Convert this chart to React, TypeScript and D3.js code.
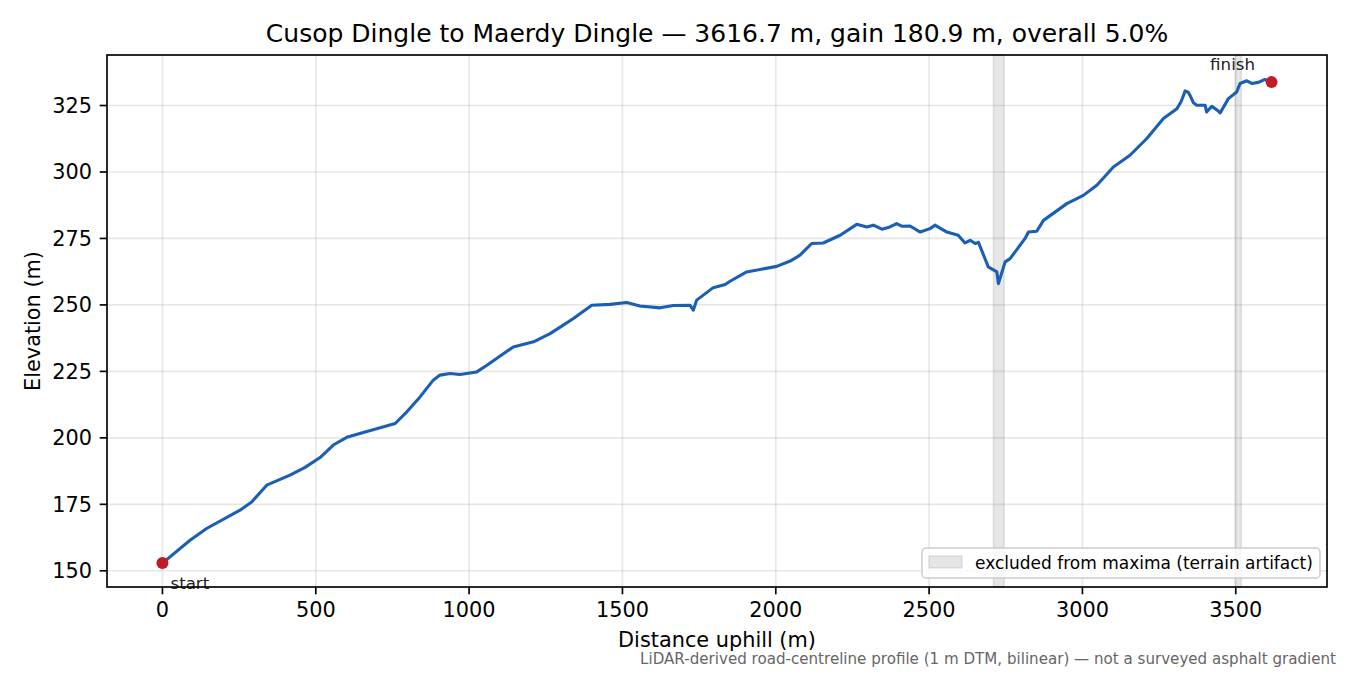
import React from "react";
import * as d3 from "d3";

const distance = [0, 90, 144, 253, 291, 340, 416, 465, 514, 557, 601, 655, 759, 797, 840, 883, 905, 938, 970, 1025, 1058, 1144, 1210, 1264, 1307, 1340, 1400, 1460, 1514, 1557, 1623, 1666, 1720, 1731, 1742, 1796, 1835, 1851, 1905, 2003, 2047, 2079, 2117, 2155, 2210, 2264, 2297, 2318, 2346, 2367, 2394, 2411, 2438, 2471, 2503, 2519, 2558, 2595, 2617, 2634, 2650, 2661, 2693, 2721, 2726, 2748, 2764, 2813, 2824, 2851, 2873, 2949, 3003, 3047, 3101, 3155, 3210, 3264, 3308, 3322, 3335, 3345, 3351, 3362, 3373, 3400, 3405, 3422, 3443, 3449, 3476, 3503, 3514, 3536, 3552, 3574, 3595, 3616.7];
const elevation = [152.9, 161.5, 165.9, 172.8, 175.9, 182.2, 186.0, 188.9, 192.6, 197.3, 200.2, 202.0, 205.4, 209.8, 215.4, 221.7, 223.6, 224.2, 223.8, 224.8, 227.3, 234.2, 236.1, 239.2, 242.4, 244.9, 249.9, 250.2, 250.9, 249.6, 248.9, 249.8, 249.9, 248.0, 251.8, 256.5, 257.7, 258.9, 262.4, 264.5, 266.5, 268.7, 273.1, 273.3, 276.2, 280.3, 279.3, 280.0, 278.5, 279.1, 280.6, 279.6, 279.7, 277.4, 278.7, 280.0, 277.4, 276.2, 273.3, 274.3, 273.1, 273.5, 264.3, 262.4, 258.0, 266.2, 267.4, 275.0, 277.4, 277.7, 281.8, 288.1, 291.2, 295.0, 301.9, 306.3, 312.6, 320.1, 323.8, 326.5, 330.5, 330.0, 328.8, 326.0, 325.1, 325.1, 322.6, 324.7, 322.9, 322.2, 327.6, 330.1, 333.3, 334.3, 333.3, 333.7, 334.8, 333.8];
const excludedBands = [[2710, 2745], [3498, 3518]];
const xTicks = [0, 500, 1000, 1500, 2000, 2500, 3000, 3500];
const yTicks = [150, 175, 200, 225, 250, 275, 300, 325];

const titleText = "Cusop Dingle to Maerdy Dingle — 3616.7 m, gain 180.9 m, overall 5.0%";
const xLabel = "Distance uphill (m)";
const yLabel = "Elevation (m)";
const legendLabel = "excluded from maxima (terrain artifact)";
const footer = "LiDAR-derived road-centreline profile (1 m DTM, bilinear) — not a surveyed asphalt gradient";

const W = 1350, H = 675;
const L = 107, R = 1327, T = 55, B = 587;
const FONT = "DejaVu Sans, sans-serif";

export default function App() {
  const x = d3.scaleLinear().domain([-180.835, 3797.535]).range([L, R]);
  const y = d3.scaleLinear().domain([143.9, 344.0]).range([B, T]);
  const pts = distance.map((d, i) => [d, elevation[i]] as [number, number]);
  const line = d3.line<[number, number]>().x(p => x(p[0])).y(p => y(p[1]));
  const n = distance.length - 1;
  const sx = x(distance[0]), sy = y(elevation[0]);
  const fx = x(distance[n]), fy = y(elevation[n]);
  return (
    <svg width={W} height={H} style={{ position: "absolute", left: 0, top: 0, background: "#fff" }} fontFamily={FONT}>
      <rect x={0} y={0} width={W} height={H} fill="#fff" />
      <defs>
        <clipPath id="plot"><rect x={L} y={T} width={R - L} height={B - T} /></clipPath>
      </defs>
      {xTicks.map(t => (
        <line key={"gx" + t} x1={x(t)} x2={x(t)} y1={T} y2={B} stroke="#b0b0b0" strokeOpacity={0.3} strokeWidth={1.67} />
      ))}
      {yTicks.map(t => (
        <line key={"gy" + t} x1={L} x2={R} y1={y(t)} y2={y(t)} stroke="#b0b0b0" strokeOpacity={0.3} strokeWidth={1.67} />
      ))}
      {excludedBands.map(([a, b], i) => (
        <rect key={"b" + i} x={x(a)} y={T} width={x(b) - x(a)} height={B - T} fill="#808080" fillOpacity={0.2} stroke="#808080" strokeOpacity={0.2} strokeWidth={1.5} />
      ))}
      <path d={line(pts) || ""} fill="none" stroke="#1a5fb4" strokeWidth={3.1} strokeLinejoin="round" strokeLinecap="round" clipPath="url(#plot)" />
      <circle cx={sx} cy={sy} r={6} fill="#c01c28" />
      <circle cx={fx} cy={fy} r={6} fill="#c01c28" />
      <text x={sx + 8} y={sy + 26} fontSize={16.67} fill="#222">start</text>
      <text x={fx - 39} y={fy - 12} fontSize={16.67} fill="#222" textAnchor="middle">finish</text>
      <rect x={L} y={T} width={R - L} height={B - T} fill="none" stroke="#000" strokeWidth={1.67} />
      {xTicks.map(t => (
        <g key={"tx" + t}>
          <line x1={x(t)} x2={x(t)} y1={B} y2={B + 7.3} stroke="#000" strokeWidth={1.67} />
          <text x={x(t)} y={617} fontSize={20.83} textAnchor="middle" fill="#000">{t}</text>
        </g>
      ))}
      {yTicks.map(t => (
        <g key={"ty" + t}>
          <line x1={L - 7.3} x2={L} y1={y(t)} y2={y(t)} stroke="#000" strokeWidth={1.67} />
          <text x={92} y={y(t) + 7.5} fontSize={20.83} textAnchor="end" fill="#000">{t}</text>
        </g>
      ))}
      <text x={(L + R) / 2} y={42} fontSize={25} textAnchor="middle" fill="#000">{titleText}</text>
      <text x={(L + R) / 2} y={646.5} fontSize={20.83} textAnchor="middle" fill="#000">{xLabel}</text>
      <text transform={`translate(40,${(T + B) / 2}) rotate(-90)`} fontSize={20.83} textAnchor="middle" fill="#000">{yLabel}</text>
      <g>
        <rect x={922} y={548} width={398} height={30} rx={4} fill="#fff" fillOpacity={0.8} stroke="#cccccc" strokeWidth={1.5} />
        <rect x={929} y={556} width={33} height={12} fill="#808080" fillOpacity={0.2} stroke="#808080" strokeOpacity={0.2} strokeWidth={1.5} />
        <text x={975} y={569} fontSize={17} fill="#000">{legendLabel}</text>
      </g>
      <text x={1336} y={664} fontSize={15.1} textAnchor="end" fill="#666">{footer}</text>
    </svg>
  );
}
